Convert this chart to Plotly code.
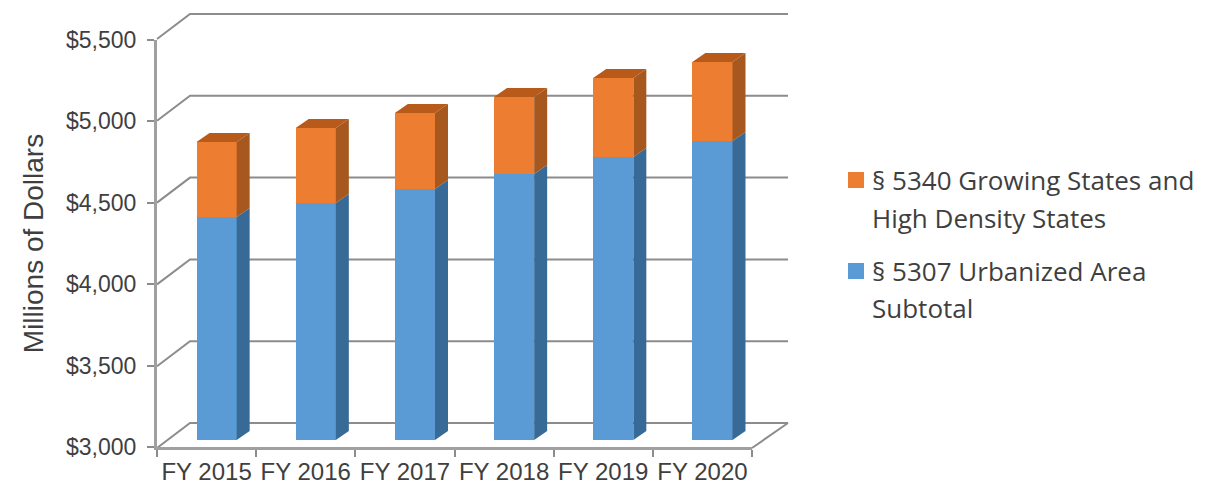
import plotly.graph_objects as go

W, H = 1225, 489

CATEGORIES = ["FY 2015", "FY 2016", "FY 2017", "FY 2018", "FY 2019", "FY 2020"]
URBANIZED = [4370, 4456, 4542, 4634, 4738, 4837]
GROWING = [460, 460, 467, 473, 486, 485]
Y_TICKS = [3000, 3500, 4000, 4500, 5000, 5500]
Y_LABELS = ["$3,000", "$3,500", "$4,000", "$4,500", "$5,000", "$5,500"]
NAME_URBAN = "§ 5307 Urbanized Area Subtotal"
NAME_GROW = "§ 5340 Growing States and High Density States"
LEGEND_GROW_LINES = ["§ 5340 Growing States and", "High Density States"]
LEGEND_URBAN_LINES = ["§ 5307 Urbanized Area", "Subtotal"]

BLUE, BLUE_SIDE = "#5B9BD5", "#376A96"
ORANGE, ORANGE_SIDE, ORANGE_TOP = "#ED7D31", "#A6581F", "#B75A1A"
AXIS = "#A0A0A0"
WALL = "#8C8C8C"
TEXT = "#3F3F3F"
ARIAL = "Liberation Sans"
CALIBRI = "Open Sans"


def dx(a, b):
    return [a / W, b / W]


def dy(bottom, top):
    return [1 - bottom / H, 1 - top / H]


PX_PER_UNIT = (447 - 40) / 2500
BAR_W = 0.405
SIDE_DX = 13 / 99.2
SIDE_DY = 9 / PX_PER_UNIT

fig = go.Figure()


def poly(points):
    xs, ys = [], []
    for shape in points:
        xs += [p[0] for p in shape] + [shape[0][0], None]
        ys += [p[1] for p in shape] + [shape[0][1], None]
    return xs, ys


# back wall and floor/wall edges on a frame axis that spans the whole box
BACK_PX_X = 598 / 6
BACK_PX_Y = 409 / 2500
WALL_DX = 33 / BACK_PX_X
FLOOR_DX = 36 / BACK_PX_X
WALL_DY = 25 / BACK_PX_Y
ex, ey = [], []
for t in Y_TICKS:
    ex += [-0.5 - WALL_DX, -0.5, 5.5, None]
    ey += [t - WALL_DY, t, t, None]
ex += [5.5, 5.5 - FLOOR_DX, None]
ey += [3000, 3000 - WALL_DY, None]
fig.add_trace(go.Scatter(x=ex, y=ey, mode="lines", line=dict(color=WALL, width=2),
                         xaxis="x", yaxis="y", hoverinfo="skip"))

# front plane bars
idx = list(range(len(CATEGORIES)))
fig.add_trace(go.Bar(x=idx, y=URBANIZED, name=NAME_URBAN, width=BAR_W,
                     marker=dict(color=BLUE, line=dict(width=0)), xaxis="x3", yaxis="y3"))
fig.add_trace(go.Bar(x=idx, y=GROWING, name=NAME_GROW, width=BAR_W,
                     marker=dict(color=ORANGE, line=dict(width=0)), xaxis="x3", yaxis="y3"))

# depth faces derived from the data
blue_side, orange_side, orange_top = [], [], []
for i, (u, g) in enumerate(zip(URBANIZED, GROWING)):
    r = i + BAR_W / 2
    l = i - BAR_W / 2
    t = u + g
    blue_side.append([(r, 3000), (r + SIDE_DX, 3000 + SIDE_DY), (r + SIDE_DX, u + SIDE_DY), (r, u)])
    orange_side.append([(r, u), (r + SIDE_DX, u + SIDE_DY), (r + SIDE_DX, t + SIDE_DY), (r, t)])
    orange_top.append([(l, t), (l + SIDE_DX, t + SIDE_DY), (r + SIDE_DX, t + SIDE_DY), (r, t)])
for shapes_, col in ((blue_side, BLUE_SIDE), (orange_side, ORANGE_SIDE), (orange_top, ORANGE_TOP)):
    xs, ys = poly(shapes_)
    fig.add_trace(go.Scatter(x=xs, y=ys, mode="lines", fill="toself", fillcolor=col,
                             line=dict(width=0, color=col), xaxis="x3", yaxis="y3",
                             hoverinfo="skip"))

# invisible trace so the front category axis is populated
fig.add_trace(go.Scatter(x=CATEGORIES, y=[3000] * 6, mode="markers", marker=dict(opacity=0),
                         xaxis="x2", yaxis="y2", hoverinfo="skip"))

annotations = []
for lines, ys in ((LEGEND_GROW_LINES, (180, 218)), (LEGEND_URBAN_LINES, (271, 308))):
    for line, y in zip(lines, ys):
        annotations.append(dict(text=line, xref="paper", yref="paper", x=872 / W, y=1 - y / H,
                                xanchor="left", yanchor="middle", showarrow=False,
                                xshift=-2, font=dict(family=CALIBRI, size=26, color=TEXT)))
shapes = [
    dict(type="rect", xref="paper", yref="paper", x0=848 / W, x1=864 / W,
         y0=1 - 188 / H, y1=1 - 172 / H, fillcolor=ORANGE, line=dict(width=0)),
    dict(type="rect", xref="paper", yref="paper", x0=848 / W, x1=864 / W,
         y0=1 - 279 / H, y1=1 - 263 / H, fillcolor=BLUE, line=dict(width=0)),
]

fig.update_layout(
    width=W, height=H, autosize=False, margin=dict(l=0, r=0, t=0, b=0),
    paper_bgcolor="white", plot_bgcolor="rgba(0,0,0,0)", barmode="stack", showlegend=False,
    annotations=annotations, shapes=shapes,
    # frame holding back wall and edges
    xaxis=dict(domain=dx(155, 790), range=[-0.5 - 35 / BACK_PX_X, 5.5 + 2 / BACK_PX_X],
               visible=False, fixedrange=True, automargin=False),
    yaxis=dict(domain=dy(450, 10), range=[3000 - 27 / BACK_PX_Y, 5500 + 4 / BACK_PX_Y],
               visible=False, anchor="x", fixedrange=True, automargin=False),
    # front axes
    xaxis2=dict(domain=dx(157, 752), type="category", categoryorder="array", categoryarray=CATEGORIES,
                range=[-0.5, 5.5], tickangle=0,
                tickson="boundaries", ticks="outside", ticklen=7, tickcolor=WALL, tickwidth=1.5,
                showline=True, linecolor=AXIS, linewidth=3, showgrid=False, anchor="y2",
                ticklabelstandoff=1, automargin=False,
                tickfont=dict(family=ARIAL, size=24, color=TEXT), fixedrange=True),
    yaxis2=dict(domain=dy(447, 40), range=[3000, 5500], tickvals=Y_TICKS, ticktext=Y_LABELS,
                ticks="outside", ticklen=7, tickcolor=WALL, tickwidth=1.5, showline=True,
                linecolor=AXIS, linewidth=3, showgrid=False, zeroline=False, anchor="x2",
                ticklabelstandoff=6, automargin=False,
                tickfont=dict(family=ARIAL, size=23, color=TEXT), fixedrange=True,
                title=dict(text="Millions of Dollars",
                           font=dict(family=ARIAL, size=28, color=TEXT))),
    # bar plane
    xaxis3=dict(domain=dx(167, 762), range=[-0.5, 5.5], visible=False, anchor="y3", fixedrange=True,
                automargin=False),
    yaxis3=dict(domain=dy(440, 33), range=[3000, 5500], visible=False, anchor="x3", fixedrange=True,
                automargin=False),
)

fig.write_html("out.html", config=dict(displayModeBar=False),
               post_script="document.body.style.margin='0';")
